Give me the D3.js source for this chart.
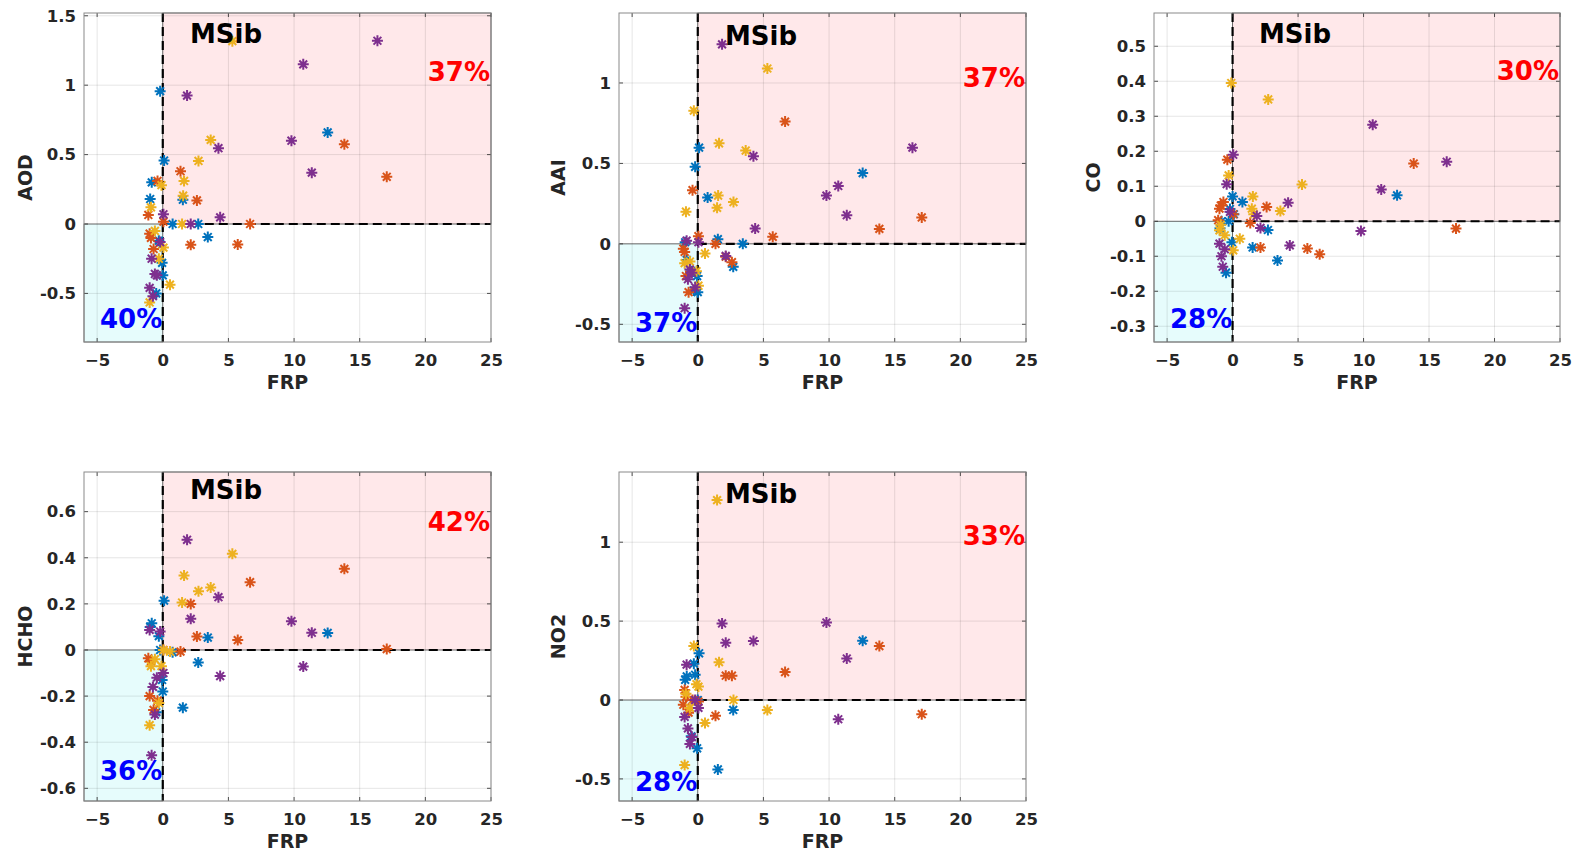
<!DOCTYPE html>
<html>
<head>
<meta charset="utf-8">
<script src="https://cdn.jsdelivr.net/npm/d3@7"></script>
<style>
  html, body { margin: 0; padding: 0; background: #fff; }
  svg { display: block; }
  text { font-family: "DejaVu Sans", sans-serif; font-weight: bold; }
</style>
</head>
<body>
<svg id="chart" width="1575" height="849"></svg>
<script>
// ---------------- DATA ----------------
const panelNames = ["AOD", "AAI", "CO", "HCHO", "NO2"];
const regionLabel = "MSib";
const redPct = ["37%", "37%", "30%", "42%", "33%"];
const bluePct = ["40%", "37%", "28%", "36%", "28%"];
const xLabel = "FRP";
const xDomain = [-6, 25];
const xTicks = [-5, 0, 5, 10, 15, 20, 25];
const yDomainAOD = [-0.85, 1.52];
const yDomainAAI = [-0.61, 1.435];
const yDomainCO = [-0.345, 0.595];
const yDomainHCHO = [-0.655, 0.772];
const yDomainNO2 = [-0.64, 1.445];
const yTicksAOD = [-0.5, 0, 0.5, 1, 1.5];
const yTicksAAI = [-0.5, 0, 0.5, 1];
const yTicksCO = [-0.3, -0.2, -0.1, 0, 0.1, 0.2, 0.3, 0.4, 0.5];
const yTicksHCHO = [-0.6, -0.4, -0.2, 0, 0.2, 0.4, 0.6];
const yTicksNO2 = [-0.5, 0, 0.5, 1];

// series 1 (blue)
const frpS1  = [-0.96, -0.84, -0.5, -0.3, -0.2, -0.05, 0.0, 0.1, 0.75, 1.53, 2.7, 3.43, 12.56];
const aodS1  = [0.18, 0.30, -0.50, -0.12, 0.957, -0.28, -0.37, 0.457, 0.0, 0.175, 0.0, -0.094, 0.66];
const aaiS1  = [0.01, -0.10, -0.17, -0.29, 0.479, -0.2, -0.30, 0.598, 0.288, 0.029, -0.143, 0.0, 0.44];
const coS1   = [-0.02, 0.0, -0.147, 0.0, 0.035, -0.06, 0.071, 0.02, 0.055, -0.075, -0.025, -0.112, 0.074];
const hchoS1 = [0.10, 0.116, -0.27, 0.06, 0.0, -0.13, -0.18, 0.214, -0.01, -0.25, -0.054, 0.054, 0.074];
const no2S1  = [0.128, 0.15, -0.23, 0.23, 0.16, -0.306, 0.0, 0.296, null, -0.44, -0.063, null, 0.376];
// series 2 (orange)
const frpS2  = [-1.1, -1.0, -0.9, -0.7, -0.4, 0.05, 1.35, 2.13, 2.6, 5.71, 6.65, 13.83, 17.06];
const aodS2  = [0.065, -0.07, -0.10, -0.18, 0.31, 0.017, 0.38, -0.15, 0.17, -0.147, 0.0, 0.575, 0.34];
const aaiS2  = [-0.03, -0.05, -0.2, -0.30, 0.334, 0.048, 0.0, -0.08, -0.114, 0.044, 0.76, 0.093, 0.164];
const coS2   = [0.003, 0.036, 0.045, 0.055, 0.176, 0.02, -0.005, -0.075, 0.041, -0.078, -0.094, 0.165, -0.021];
const hchoS2 = [-0.036, -0.2, -0.05, -0.26, -0.22, 0.0, -0.007, 0.2, 0.058, 0.043, 0.294, 0.352, 0.004];
const no2S2  = [-0.03, 0.064, 0.02, -0.08, 0.0, -0.01, -0.10, 0.154, 0.154, null, 0.177, 0.342, -0.09];
// series 3 (yellow)
const frpS3  = [-1.0, -0.9, -0.6, -0.3, -0.1, 0.05, 0.55, 1.47, 1.55, 1.62, 2.72, 3.65, 5.3];
const aodS3  = [-0.565, 0.12, -0.05, -0.25, 0.28, -0.17, -0.437, 0.0, 0.204, 0.31, 0.454, 0.606, 1.317];
const aaiS3  = [-0.12, 0.2, -0.11, 0.828, -0.17, -0.26, -0.06, 0.224, 0.30, 0.625, 0.26, 0.58, 1.09];
const coS3   = [-0.026, -0.01, -0.04, 0.131, 0.395, -0.083, -0.05, 0.036, 0.071, 0.02, 0.348, 0.029, 0.105];
const hchoS3 = [-0.326, -0.07, -0.04, -0.23, -0.07, 0.0, -0.007, 0.206, null, 0.323, 0.255, 0.271, 0.417];
const no2S3  = [-0.412, 0.04, -0.05, 0.342, 0.10, 0.085, -0.145, 1.267, null, 0.24, 0.0, null, -0.064];
// series 4 (purple)
const frpS4  = [-1.0, -0.85, -0.75, -0.6, -0.45, -0.2, 0.05, 1.85, 2.13, 4.24, 4.37, 9.8, 10.7, 11.35, 16.35];
const aodS4  = [-0.46, -0.25, -0.52, -0.36, -0.37, -0.13, 0.07, 0.925, 0.0, 0.546, 0.048, 0.60, 1.15, 0.37, 1.32];
const aaiS4  = [-0.40, 0.02, -0.22, -0.16, -0.18, -0.27, 0.01, 1.24, -0.075, 0.545, 0.095, 0.30, 0.36, 0.178, 0.598];
const coS4   = [-0.064, -0.10, -0.13, -0.08, 0.106, 0.027, 0.19, 0.015, -0.019, 0.053, -0.069, -0.028, 0.276, 0.091, 0.17];
const hchoS4 = [0.087, -0.457, -0.16, -0.28, -0.12, 0.08, -0.10, 0.478, 0.135, 0.229, -0.113, 0.125, -0.072, 0.075, null];
const no2S4  = [-0.107, 0.224, -0.18, -0.278, -0.235, 0.0, -0.05, 0.485, 0.363, 0.374, null, 0.491, -0.122, 0.263, null];

// ---------------- LAYOUT / STYLE ----------------
const seriesColors = ["#0072BD", "#D95319", "#EDB120", "#7E2F8E"];
const frpAll = [frpS1, frpS2, frpS3, frpS4];
const valuesByPanel = [
  [aodS1, aodS2, aodS3, aodS4],
  [aaiS1, aaiS2, aaiS3, aaiS4],
  [coS1, coS2, coS3, coS4],
  [hchoS1, hchoS2, hchoS3, hchoS4],
  [no2S1, no2S2, no2S3, no2S4]
];
const yDomains = [yDomainAOD, yDomainAAI, yDomainCO, yDomainHCHO, yDomainNO2];
const yTicksAll = [yTicksAOD, yTicksAAI, yTicksCO, yTicksHCHO, yTicksNO2];

const boxes = [
  { x: 84,   y: 13,  w: 407, h: 329, ylab: -59, ms: [106, 30], red: 68, blue: 315 },
  { x: 619,  y: 13,  w: 407, h: 329, ylab: -61, ms: [106, 32], red: 74, blue: 319 },
  { x: 1154, y: 13,  w: 406, h: 329, ylab: -61, ms: [105, 30], red: 67, blue: 315 },
  { x: 84,   y: 472, w: 407, h: 329, ylab: -59, ms: [106, 27], red: 59, blue: 308 },
  { x: 619,  y: 472, w: 407, h: 329, ylab: -61, ms: [106, 31], red: 73, blue: 319 }
];

const svg = d3.select("#chart");
const axisColor = "#262626";
const starPath = "M-5.5,0L5.5,0M0,-5.5L0,5.5M-3.9,-3.9L3.9,3.9M-3.9,3.9L3.9,-3.9";

boxes.forEach((b, i) => {
  const g = svg.append("g").attr("transform", `translate(${b.x},${b.y})`);
  const x = d3.scaleLinear().domain(xDomain).range([0, b.w]);
  const y = d3.scaleLinear().domain(yDomains[i]).range([b.h, 0]);

  // quadrant patches
  g.append("rect")
    .attr("x", x(0)).attr("y", 0)
    .attr("width", x(xDomain[1]) - x(0)).attr("height", y(0))
    .attr("fill", "#ffe8ea").attr("stroke", "#555").attr("stroke-width", 0.8);
  g.append("rect")
    .attr("x", 0).attr("y", y(0))
    .attr("width", x(0)).attr("height", b.h - y(0))
    .attr("fill", "#e6fcfc").attr("stroke", "#555").attr("stroke-width", 0.8);

  // grid
  const gridG = g.append("g");
  gridG.selectAll("line.gx").data(xTicks).enter().append("line")
    .attr("x1", d => x(d)).attr("x2", d => x(d)).attr("y1", 0).attr("y2", b.h)
    .attr("stroke", "#000").attr("stroke-opacity", 0.1).attr("stroke-width", 1);
  gridG.selectAll("line.gy").data(yTicksAll[i]).enter().append("line")
    .attr("y1", d => y(d)).attr("y2", d => y(d)).attr("x1", 0).attr("x2", b.w)
    .attr("stroke", "#000").attr("stroke-opacity", 0.1).attr("stroke-width", 1);

  // dashed reference lines
  g.append("line")
    .attr("x1", x(0)).attr("x2", x(0)).attr("y1", 0).attr("y2", b.h)
    .attr("stroke", "#000").attr("stroke-width", 2.2).attr("stroke-dasharray", "9,5");
  g.append("line")
    .attr("x1", x(0)).attr("x2", b.w).attr("y1", y(0)).attr("y2", y(0))
    .attr("stroke", "#000").attr("stroke-width", 2.2).attr("stroke-dasharray", "9,5");

  // markers
  frpAll.forEach((frp, s) => {
    const vals = valuesByPanel[i][s];
    const pts = frp.map((f, k) => ({ f, v: vals[k] })).filter(p => p.v !== null);
    g.append("g").selectAll("path").data(pts).enter().append("path")
      .attr("d", starPath)
      .attr("transform", d => `translate(${x(d.f)},${y(d.v)})`)
      .attr("fill", "none").attr("stroke", seriesColors[s])
      .attr("stroke-width", 2).attr("stroke-linecap", "butt");
  });

  // axes
  const xAxis = d3.axisBottom(x).tickValues(xTicks).tickSize(0).tickPadding(12).tickFormat(d3.format("d"));
  const xa = g.append("g").attr("transform", `translate(0,${b.h})`).call(xAxis);
  const yAxis = d3.axisLeft(y).tickValues(yTicksAll[i]).tickSize(0).tickPadding(8)
    .tickFormat(d => d === 0 ? "0" : String(d));
  const ya = g.append("g").call(yAxis);
  [xa, ya].forEach(a => {
    a.select(".domain").remove();
    a.selectAll("text").attr("fill", axisColor).style("font-size", "16.5px")
      .style("font-family", "'DejaVu Sans', sans-serif").style("font-weight", "bold");
  });

  // inward tick marks on all sides
  const tl = 4;
  const tk = g.append("g").attr("stroke", axisColor).attr("stroke-width", 0.8);
  xTicks.forEach(t => {
    tk.append("line").attr("x1", x(t)).attr("x2", x(t)).attr("y1", b.h).attr("y2", b.h - tl);
    tk.append("line").attr("x1", x(t)).attr("x2", x(t)).attr("y1", 0).attr("y2", tl);
  });
  yTicksAll[i].forEach(t => {
    tk.append("line").attr("x1", 0).attr("x2", tl).attr("y1", y(t)).attr("y2", y(t));
    tk.append("line").attr("x1", b.w).attr("x2", b.w - tl).attr("y1", y(t)).attr("y2", y(t));
  });

  // box
  g.append("rect").attr("x", 0).attr("y", 0).attr("width", b.w).attr("height", b.h)
    .attr("fill", "none").attr("stroke", "#8a8a8a").attr("stroke-width", 1);

  // axis labels
  g.append("text").attr("x", b.w / 2).attr("y", b.h + 47)
    .attr("text-anchor", "middle").attr("fill", axisColor).style("font-size", "19px").text(xLabel);
  g.append("text")
    .attr("transform", `translate(${b.ylab},${b.h / 2}) rotate(-90)`)
    .attr("text-anchor", "middle").attr("dominant-baseline", "central")
    .attr("fill", axisColor).style("font-size", "19px").text(panelNames[i]);

  // annotations
  g.append("text").attr("x", b.ms[0]).attr("y", b.ms[1])
    .attr("fill", "#000").style("font-size", "26px").text(regionLabel);
  g.append("text").attr("x", b.w - 1).attr("y", b.red).attr("text-anchor", "end")
    .attr("fill", "#ff0000").style("font-size", "26px").text(redPct[i]);
  g.append("text").attr("x", 16).attr("y", b.blue)
    .attr("fill", "#0000ff").style("font-size", "26px").text(bluePct[i]);
});
</script>
</body>
</html>
